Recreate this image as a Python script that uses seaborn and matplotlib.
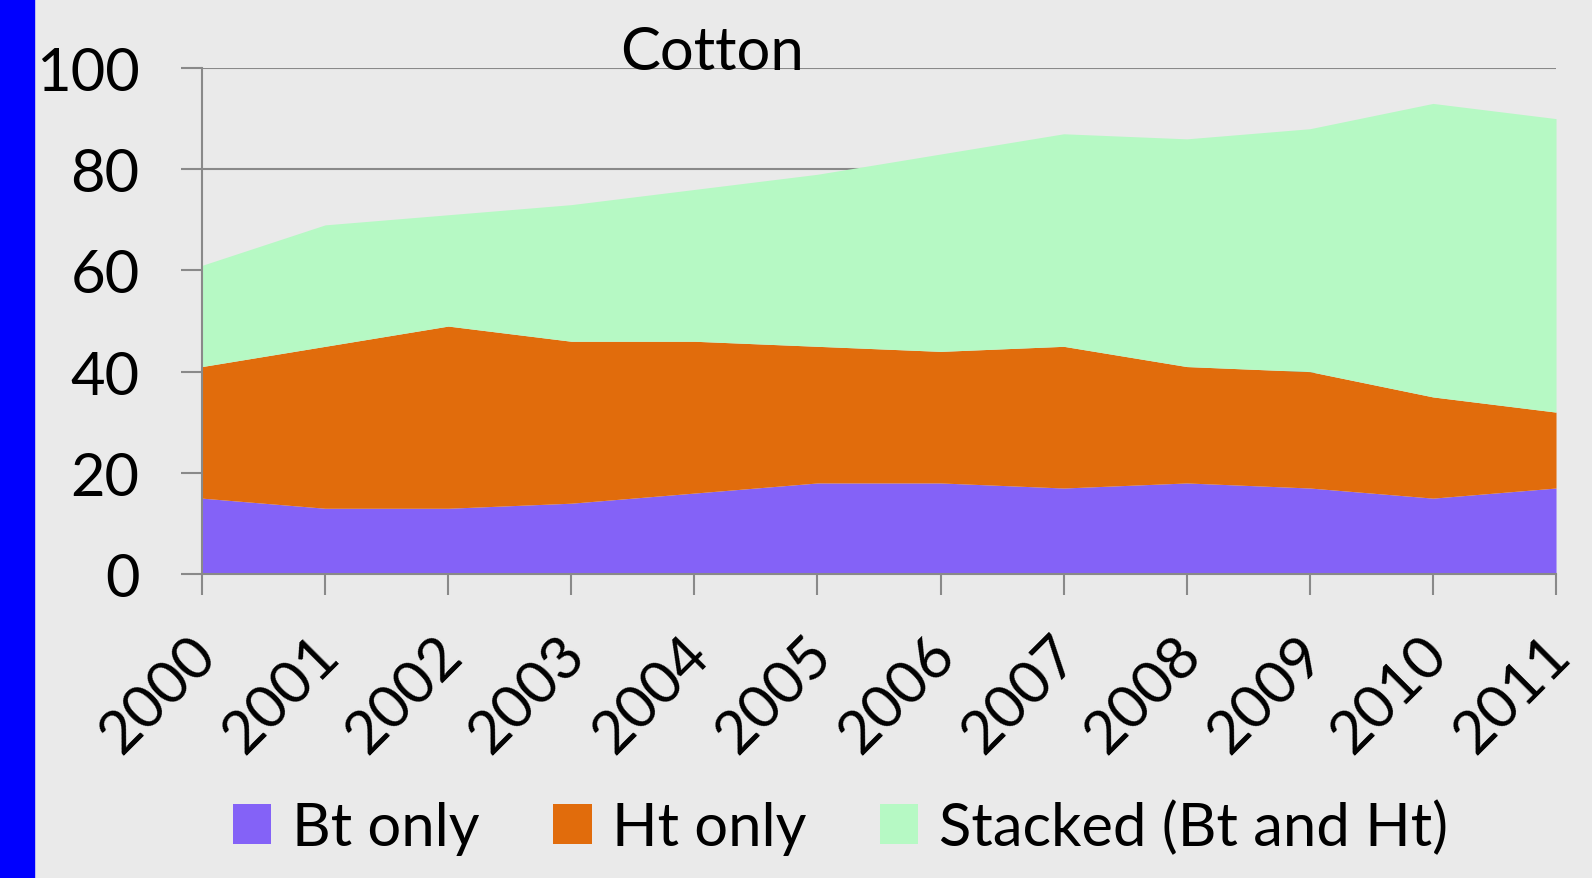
#!/usr/bin/env python3

"""
Cotton adoption, stacked area chart
"""

import pandas as pd
import seaborn as sns
import matplotlib.pyplot as plt
import matplotlib.transforms as mtrans
from matplotlib.patches import Rectangle, Patch

years = [2000, 2001, 2002, 2003, 2004, 2005, 2006, 2007, 2008, 2009, 2010, 2011]
bt_only = [15, 13, 13, 14, 16, 18, 18, 17, 18, 17, 15, 17]
ht_only = [26, 32, 36, 32, 30, 27, 26, 28, 23, 23, 20, 15]
stacked = [20, 24, 22, 27, 30, 34, 39, 42, 45, 48, 58, 58]
series_names = ["Bt only", "Ht only", "Stacked (Bt and Ht)"]
colors = ["#8462F7", "#E16C0C", "#B6F9C4"]

df = pd.DataFrame({"year": years, series_names[0]: bt_only,
                   series_names[1]: ht_only, series_names[2]: stacked})

sns.set_style("white")
plt.rcParams["font.family"] = ["Lato", "DejaVu Sans"]
plt.rcParams["text.color"] = "black"
plt.rcParams["xtick.labelcolor"] = "black"
plt.rcParams["ytick.labelcolor"] = "black"

fs = 43
bg = "#EAEAEA"
fig = plt.figure(figsize=(15.92, 8.79), dpi=100, facecolor=bg)
ax = fig.add_axes([0.1269, 0.3458, 0.9774 - 0.1269, 0.9215 - 0.3458])
ax.set_facecolor(bg)

# blue strip on the left edge
fig.patches.append(Rectangle((0, 0), 34 / 1592, 1, transform=fig.transFigure,
                             color="#0000FF", zorder=0))

ax.stackplot(df["year"], df[series_names[0]], df[series_names[1]], df[series_names[2]],
             colors=colors, linewidth=0, zorder=2)

ax.set_xlim(2000, 2011)
ax.set_ylim(0, 100)
ax.set_yticks(range(0, 101, 20))
ax.set_xticks(years)
ax.set_xticklabels([str(y) for y in years], rotation=45, ha="right",
                   rotation_mode="anchor")

ax.yaxis.grid(True, color="#898989", linewidth=1.5, zorder=1)
ax.set_axisbelow(True)
sns.despine(ax=ax, top=True, right=True)
for s in ["left", "bottom"]:
    ax.spines[s].set_color("#898989")
    ax.spines[s].set_linewidth(1.5)
    ax.spines[s].set_zorder(3)

ax.tick_params(axis="y", direction="out", length=15, width=1.5, color="#898989",
               pad=30, labelsize=fs, left=True)
ax.tick_params(axis="x", direction="out", length=15, width=1.5, color="#898989",
               pad=6, labelsize=fs, bottom=True)

# push the rotated year labels down and left a bit (after tick_params, which resets transforms)
shift = mtrans.ScaledTranslation(-14 / 100, -23 / 100, fig.dpi_scale_trans)
for lbl in ax.get_xticklabels():
    lbl.set_transform(lbl.get_transform() + shift)

fig.text(0.4472, 0.94, "Cotton", ha="center", va="center", fontsize=fs)

handles = [Patch(facecolor=c, edgecolor="none") for c in colors]
fig.legend(handles, series_names, loc="center", bbox_to_anchor=(0.528, 0.058),
           ncol=3, frameon=False, fontsize=fs, handlelength=0.65, handleheight=0.65,
           handletextpad=0.35, columnspacing=1.22)

plt.savefig("out.png", dpi=100, facecolor=bg)
